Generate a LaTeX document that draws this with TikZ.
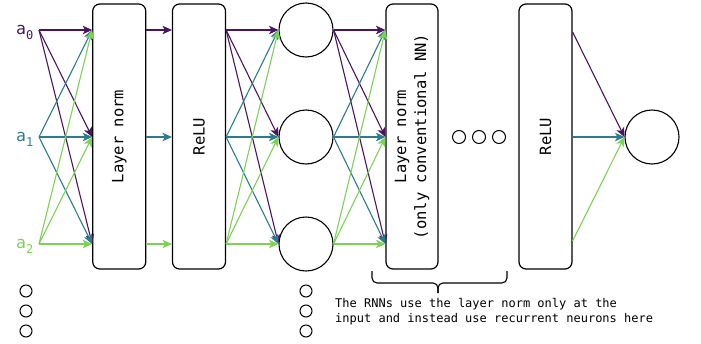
\documentclass[tikz,border=0pt]{standalone}
\usepackage{fontspec}
\setmainfont{DejaVu Sans Mono}
\usetikzlibrary{arrows.meta}
\definecolor{cP}{HTML}{4A1460}
\definecolor{cT}{HTML}{2B7D8E}
\definecolor{cG}{HTML}{7CD254}
\begin{document}
\begin{tikzpicture}[x=1pt,y=-1pt,
  box/.style={draw,rounded corners=7pt,line width=1.2pt,minimum width=53pt,minimum height=265pt,inner sep=0pt,font=\fontsize{15.5}{20}\selectfont},
  neuron/.style={draw,circle,line width=1.1pt,minimum size=54pt,inner sep=0pt},
  dotc/.style={draw,circle,line width=1pt,minimum size=13pt,inner sep=0pt},
  edge/.style={line width=1.1pt,-{Stealth[length=9.5pt,width=8.5pt,inset=2.5pt]}},
  alabel/.style={anchor=base west,inner sep=0pt,font=\fontsize{16.5}{18}\selectfont},
]
\useasboundingbox (0,0) rectangle (701,343);

% boxes
\node[box] (LN) at (119.25,136.5) {\rotatebox{90}{Layer norm}};
\node[box] (R1) at (199,136.5) {\rotatebox{90}{ReLU}};
\node[box,minimum width=52pt] (L2) at (412,136.5) {\rotatebox{90}{\begin{tabular}{@{}c@{}}Layer norm\\(only conventional NN)\end{tabular}}};
\node[box] (R2) at (545.5,136.5) {\rotatebox{90}{ReLU}};

% neurons
\node[neuron] (C0) at (306,30) {};
\node[neuron] (C1) at (306,137) {};
\node[neuron] (C2) at (306,244) {};
\node[neuron] (F) at (652,137) {};

% ellipsis dots
\node[dotc] (e1) at (459,137) {};
\node[dotc] (e2) at (479,137) {};
\node[dotc] (e3) at (499,137) {};
\node[dotc,minimum size=12pt] (l1) at (26,291) {};
\node[dotc,minimum size=12pt] (l2) at (26,311) {};
\node[dotc,minimum size=12pt] (l3) at (26,331) {};
\node[dotc,minimum size=12pt] (m1) at (306,291) {};
\node[dotc,minimum size=12pt] (m2) at (306,311) {};
\node[dotc,minimum size=12pt] (m3) at (306,331) {};

% input labels
\node[alabel,text=cP] (a0) at (16,34) {a\raisebox{-5pt}{\fontsize{12}{12}\selectfont 0}};
\node[alabel,text=cT] (a1) at (16,141) {a\raisebox{-5pt}{\fontsize{12}{12}\selectfont 1}};
\node[alabel,text=cG] (a2) at (16,248) {a\raisebox{-5pt}{\fontsize{12}{12}\selectfont 2}};

% ports
\foreach \i/\y in {0/30,1/137,2/244}{
  \coordinate (s\i) at (39,\y);
  \coordinate (LNi\i) at (LN.west |- s\i);
  \coordinate (LNo\i) at (LN.east |- s\i);
  \coordinate (R1i\i) at (R1.west |- s\i);
  \coordinate (R1o\i) at (R1.east |- s\i);
  \coordinate (L2i\i) at (L2.west |- s\i);
}
\coordinate (R2o0) at (R2.east |- 0,32);
\coordinate (R2o1) at (R2.east |- 0,137);
\coordinate (R2o2) at (R2.east |- 0,241);

% connectors
\foreach \i/\c in {0/cP,1/cT,2/cG}{
  \foreach \j in {0,1,2}{
    \draw[edge,\c] (s\i) -- (LNi\j);
    \draw[edge,\c] (R1o\i) -- (C\j.west);
    \draw[edge,\c] (C\i.east) -- (L2i\j);
  }
  \draw[edge,\c] (LNo\i) -- (R1i\i);
  \draw[edge,\c] (R2o\i) -- (F.west);
}

% brace
\draw[line width=1.1pt,rounded corners=5pt] (372,271) -- (372,283) -- (438,283) -- (438,293);
\draw[line width=1.1pt,rounded corners=5pt] (507,271) -- (507,283) -- (438,283) -- (438,293);

% note
\node[anchor=north west,align=left,inner sep=0pt,font=\fontsize{12}{15}\selectfont] (note) at (335,298)
  {The RNNs use the layer norm only at the\\input and instead use recurrent neurons here};
\end{tikzpicture}
\end{document}
